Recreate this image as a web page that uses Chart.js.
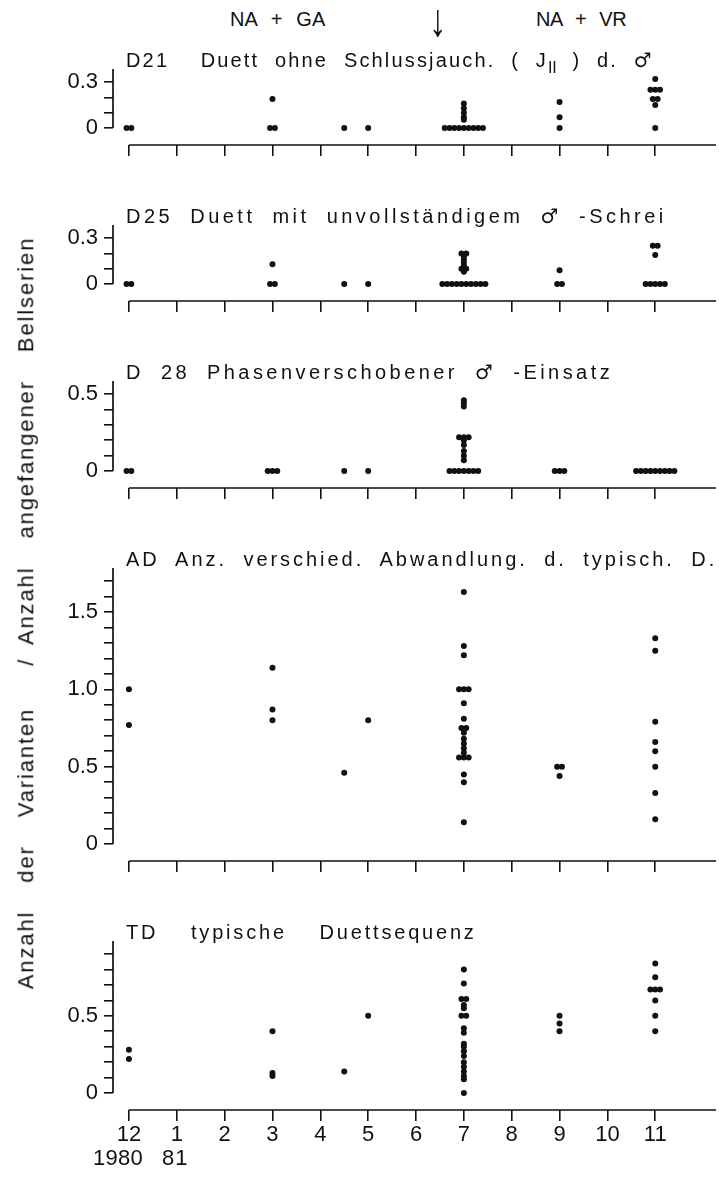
<!DOCTYPE html>
<html>
<head>
<meta charset="utf-8">
<script src="https://cdn.jsdelivr.net/npm/chart.js@4.4.1/dist/chart.umd.min.js"></script>
<style>
html,body{margin:0;padding:0;background:#fff;}
#page{position:relative;width:719px;height:1188px;overflow:hidden;font-family:'Liberation Sans',Arial,sans-serif;color:#111;}
#page canvas{position:absolute;left:0;}
.t{position:absolute;white-space:pre;line-height:1;}
.ttl{font-size:20px;word-spacing:8px;}
.ttl sub{font-size:16px;vertical-align:-6px;line-height:0;letter-spacing:0;}
.sym{font-family:'DejaVu Sans',sans-serif;font-size:20px;}
</style>
</head>
<body>
<div id="page"></div>
<script>
// x: 0 = Dez. 1980, 1..11 = Jan..Nov 1981
const monthTicks = [0,1,2,3,4,5,6,7,8,9,10,11];
const monthLabels = ['12','1','2','3','4','5','6','7','8','9','10','11'];
const groupMonths = [0, 3, 4.5, 5, 7, 9, 11];

// one list of values per entry of groupMonths
const d21 = [
  [0,0],
  [0.19,0,0],
  [0],
  [0],
  [0.16,0.13,0.1,0.07,0.055,0,0,0,0,0,0,0,0,0],
  [0.17,0.07,0],
  [0.32,0.25,0.25,0.25,0.19,0.19,0.15,0]
];
const d25 = [
  [0,0],
  [0.13,0,0],
  [0],
  [0],
  [0.2,0.2,0.18,0.16,0.14,0.12,0.1,0.1,0.08,0,0,0,0,0,0,0,0,0,0],
  [0.09,0,0],
  [0.25,0.25,0.19,0,0,0,0,0]
];
const d28 = [
  [0,0],
  [0,0,0],
  [0],
  [0],
  [0.46,0.44,0.42,0.22,0.22,0.22,0.2,0.17,0.13,0.1,0.07,0,0,0,0,0,0,0],
  [0,0,0],
  [0,0,0,0,0,0,0,0,0]
];
const ad = [
  [1.0,0.77],
  [1.14,0.87,0.8],
  [0.46],
  [0.8],
  [1.63,1.28,1.22,1.0,1.0,1.0,0.91,0.81,0.75,0.75,0.72,0.68,0.65,0.62,0.59,0.56,0.56,0.56,0.45,0.4,0.14],
  [0.5,0.5,0.44],
  [1.33,1.25,0.79,0.66,0.6,0.5,0.33,0.16]
];
const td = [
  [0.28,0.22],
  [0.4,0.13,0.11],
  [0.14],
  [0.5],
  [0.8,0.71,0.61,0.61,0.57,0.55,0.5,0.5,0.42,0.39,0.32,0.3,0.27,0.24,0.2,0.17,0.14,0.11,0.09,0],
  [0.5,0.45,0.4],
  [0.84,0.75,0.67,0.67,0.67,0.6,0.5,0.4]
];

const ticks03 = [0,0.1,0.2,0.3];
const labels03 = ['0','','','0.3'];
const ticks05 = [0,0.1,0.2,0.3,0.4,0.5];
const labels05 = ['0','','','','','0.5'];
const ticksAD = [0,0.1,0.2,0.3,0.4,0.5,0.6,0.7,0.8,0.9,1.0,1.1,1.2,1.3,1.4,1.5,1.6,1.7];
const labelsAD = ['0','','','','','0.5','','','','','1.0','','','','','1.5','',''];
const ticksTD = [0,0.1,0.2,0.3,0.4,0.5,0.6,0.7,0.8,0.9];
const labelsTD = ['0','','','','','0.5','','','',''];

const INK = '#111';
const FONT = "'Liberation Sans', Arial, sans-serif";
const PPU = 154.5;      // px per unit on every y axis
const TIE = 0.1;        // horizontal shift for equal values (months)
const X_MIN = -0.333, X_MAX = 12.27;
const Y_MIN = -17 / PPU;
const PAD_TOP = 24;     // room for Chart.js label padding, keeps the plot scale exact

const MALE = '<span class="sym">\u2642</span>';
const panels = [
  { values: d21, ticks: ticks03, labels: labels03, y0: 128, tw: 532,
    title: 'D21  Duett ohne Schlussjauch. ( J<sub>II</sub> ) d. ' + MALE },
  { values: d25, ticks: ticks03, labels: labels03, y0: 284, tw: 541,
    title: 'D25 Duett mit unvollständigem ' + MALE + ' -Schrei' },
  { values: d28, ticks: ticks05, labels: labels05, y0: 471, tw: 487,
    title: 'D 28 Phasenverschobener ' + MALE + ' -Einsatz' },
  { values: ad, ticks: ticksAD, labels: labelsAD, y0: 844, tw: 591,
    title: 'AD Anz. verschied. Abwandlung. d. typisch. D.' },
  { values: td, ticks: ticksTD, labels: labelsTD, y0: 1093, tw: 351, last: true,
    title: 'TD  typische  Duettsequenz' }
];

function spread(values, month) {
  const counts = {}, seen = {};
  values.forEach(v => counts[v] = (counts[v] || 0) + 1);
  return values.map(v => {
    const k = seen[v] = (seen[v] === undefined ? 0 : seen[v] + 1);
    return { x: month + (k - (counts[v] - 1) / 2) * TIE, y: v };
  });
}

const axisLines = {
  id: 'axisLines',
  afterDraw(chart) {
    const { ctx, chartArea, scales: { x, y } } = chart;
    ctx.save();
    ctx.strokeStyle = INK;
    ctx.lineWidth = 1.7;
    ctx.beginPath();
    ctx.moveTo(chartArea.left, y.getPixelForValue(0));
    ctx.lineTo(chartArea.left, chartArea.top);
    ctx.moveTo(x.getPixelForValue(0), chartArea.bottom);
    ctx.lineTo(chartArea.right, chartArea.bottom);
    ctx.stroke();
    ctx.restore();
  }
};

function fit(el, width) {
  el.style.letterSpacing = '0px';
  const n = el.textContent.length;
  const w = el.offsetWidth;
  el.style.letterSpacing = ((width - w) / n) + 'px';
}

function addText(html, cls, left, top) {
  const el = document.createElement('div');
  el.className = 't ' + cls;
  el.innerHTML = html;
  el.style.left = left + 'px';
  el.style.top = top + 'px';
  document.getElementById('page').appendChild(el);
  return el;
}

const page = document.getElementById('page');

panels.forEach(p => {
  const yTop = p.ticks[p.ticks.length - 1] + 0.085;
  const xh = p.last ? 62 : 24;
  const h = Math.round(PAD_TOP + (yTop - Y_MIN) * PPU + xh);
  const top = Math.round(p.y0 - yTop * PPU - PAD_TOP);
  const cv = document.createElement('canvas');
  cv.width = 719; cv.height = h;
  cv.style.top = top + 'px';
  page.appendChild(cv);

  const pts = [];
  p.values.forEach((vals, i) => pts.push(...spread(vals, groupMonths[i])));

  const chart = new Chart(cv, {
    type: 'scatter',
    data: { datasets: [{ data: pts, pointRadius: 3, pointHoverRadius: 3,
      backgroundColor: INK, borderWidth: 0, clip: false }] },
    options: {
      responsive: false, animation: false, devicePixelRatio: 1,
      layout: { padding: { top: PAD_TOP, left: 0, right: 1, bottom: 0 } },
      plugins: { legend: { display: false }, tooltip: { enabled: false } },
      scales: {
        x: {
          type: 'linear', min: X_MIN, max: X_MAX,
          afterBuildTicks: s => { s.ticks = monthTicks.map(v => ({ value: v })); },
          afterFit: s => { s.height = xh; },
          border: { display: false },
          grid: { drawOnChartArea: false, drawTicks: true, tickLength: 11, color: INK, lineWidth: 1.6 },
          ticks: { display: !!p.last, autoSkip: false, maxRotation: 0, padding: 1,
            color: INK, font: { family: FONT, size: 22 },
            callback: (v, i) => monthLabels[i] }
        },
        y: {
          min: Y_MIN, max: yTop,
          afterBuildTicks: s => { s.ticks = p.ticks.map(v => ({ value: v })); },
          afterFit: s => { s.width = 113; },
          border: { display: false },
          grid: { drawOnChartArea: false, drawTicks: true, tickLength: 9, color: INK, lineWidth: 1.6 },
          ticks: { autoSkip: false, padding: 6, color: INK, font: { family: FONT, size: 22 },
            callback: (v, i) => p.labels[i] }
        }
      }
    },
    plugins: [axisLines]
  });

  const tEl = addText(p.title, 'ttl', 126, top + chart.chartArea.top - 19);
  fit(tEl, p.tw);
});

// header
const h1 = addText('NA + GA', 'ttl', 230, 9); fit(h1, 95);
const h2 = addText('NA + VR', 'ttl', 536, 9); fit(h2, 90);
const arr = addText('\u2193', '', 426, -3);
arr.style.fontSize = '46px';
arr.style.transform = 'scaleX(0.75)';

// year labels
const y1 = addText('1980', '', 93, 1147); y1.style.fontSize = '22px'; fit(y1, 50);
const y2 = addText('81', '', 162, 1147); y2.style.fontSize = '22px'; fit(y2, 26);

// y axis title (rotated)
const yt = addText('Anzahl  der  Varianten   / Anzahl  angefangener  Bellserien', '', 0, 0);
yt.style.fontSize = '22px';
yt.style.wordSpacing = '6px';
fit(yt, 753);
const w = yt.offsetWidth, hh = yt.offsetHeight;
yt.style.left = (26 - w / 2) + 'px';
yt.style.top = (613 - hh / 2) + 'px';
yt.style.transform = 'rotate(-90deg)';
</script>
</body>
</html>
